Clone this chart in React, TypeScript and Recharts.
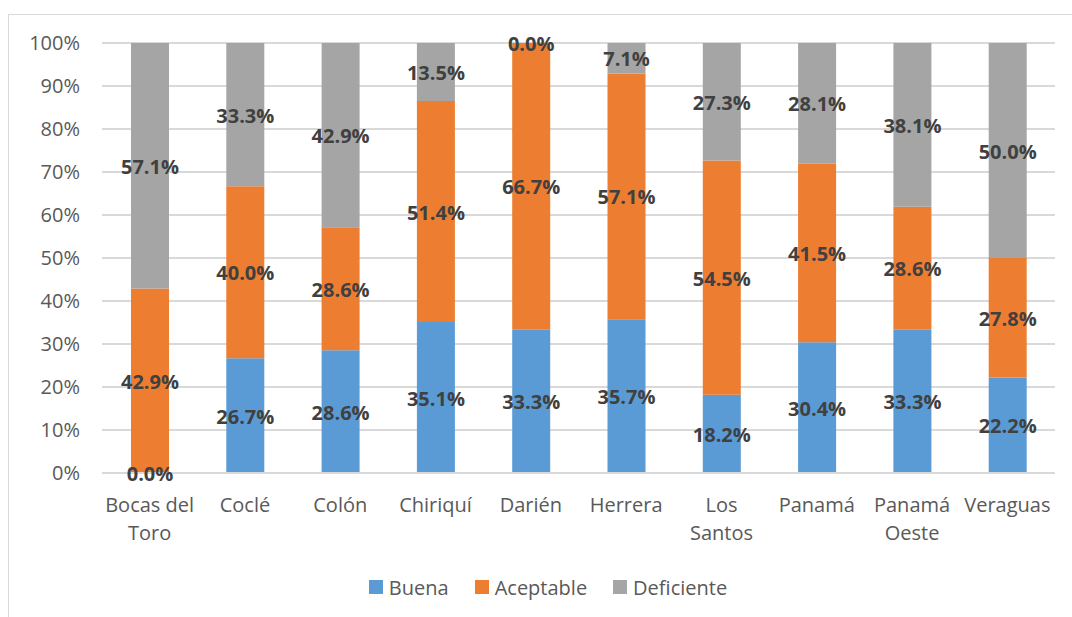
import React from 'react';
import { BarChart, Bar, XAxis, YAxis, CartesianGrid, Legend, LabelList } from 'recharts';

const categories = ['Bocas del Toro', 'Coclé', 'Colón', 'Chiriquí', 'Darién', 'Herrera', 'Los Santos', 'Panamá', 'Panamá Oeste', 'Veraguas'];
const buena = [0.0, 26.7, 28.6, 35.1, 33.3, 35.7, 18.2, 30.4, 33.3, 22.2];
const aceptable = [42.9, 40.0, 28.6, 51.4, 66.7, 57.1, 54.5, 41.5, 28.6, 27.8];
const deficiente = [57.1, 33.3, 42.9, 13.5, 0.0, 7.1, 27.3, 28.1, 38.1, 50.0];
const yTicks = [0, 0.1, 0.2, 0.3, 0.4, 0.5, 0.6, 0.7, 0.8, 0.9, 1];
const xLabelLines: Record<string, string[]> = {
  'Bocas del Toro': ['Bocas del', 'Toro'],
  'Los Santos': ['Los', 'Santos'],
  'Panamá Oeste': ['Panamá', 'Oeste'],
};

const data = categories.map((c, i) => ({
  name: c,
  Buena: buena[i],
  Aceptable: aceptable[i],
  Deficiente: deficiente[i],
}));

const FONT = '"Open Sans", sans-serif';

const XTick = (props: any) => {
  const { x, y, payload } = props;
  const lines = xLabelLines[payload.value] || [payload.value];
  return (
    <text x={x} y={y} textAnchor="middle" fill="#595959" fontSize={20} fontFamily={FONT}>
      {lines.map((l, i) => (
        <tspan key={i} x={x} dy={i === 0 ? 31 : 28}>{l}</tspan>
      ))}
    </text>
  );
};

const LegendContent = () => {
  const items = [
    { name: 'Buena', color: '#5B9BD5' },
    { name: 'Aceptable', color: '#ED7D31' },
    { name: 'Deficiente', color: '#A5A5A5' },
  ];
  return (
    <div style={{ display: 'flex', justifyContent: 'center', alignItems: 'center', height: 40, paddingLeft: 24, boxSizing: 'border-box', fontFamily: FONT, fontSize: 20, color: '#595959' }}>
      {items.map((it) => (
        <div key={it.name} style={{ display: 'flex', alignItems: 'center', margin: '0 13px' }}>
          <div style={{ width: 14, height: 14, background: it.color, marginRight: 6 }} />
          <span>{it.name}</span>
        </div>
      ))}
    </div>
  );
};

const labelText = (x: number, y: number, v: number, key?: string) => (
  <text key={key} x={x} y={y} dy={8} textAnchor="middle" fill="#404040" fontSize={20} fontWeight="bold" fontFamily={FONT}>
    {`${Number(v).toFixed(1)}%`}
  </text>
);

const SegLabel = (props: any) => {
  const { x, y, width, height, value, index, series } = props;
  if (value === undefined || value === null) return null;
  const cx = Number(x) + Number(width) / 2;
  const top = Number(y);
  const h = Number(height);
  const out: any[] = [labelText(cx, top + h / 2, value, 'm')];
  // zero-height neighbours get their label drawn at the shared edge
  if (series === 'Aceptable') {
    const d = data[index];
    if (d && d.Buena === 0) out.push(labelText(cx, top + h, d.Buena, 'b'));
    if (d && d.Deficiente === 0) out.push(labelText(cx, top, d.Deficiente, 't'));
  }
  return <g>{out}</g>;
};

export default function App() {
  return (
    <div style={{ position: 'absolute', left: 0, top: 0, width: 1072, height: 617, background: '#fff', overflow: 'hidden' }}>
      <div style={{ position: 'absolute', left: 8, top: 14, width: 1100, height: 700, border: '1.5px solid #D9D9D9', boxSizing: 'border-box' }} />
      <div style={{ position: 'absolute', left: 0, top: 0 }}>
        <BarChart
          width={1072}
          height={617}
          data={data}
          stackOffset="expand"
          barSize={38}
          margin={{ top: 43, right: 17, bottom: 0, left: 0 }}
        >
          <CartesianGrid vertical={false} stroke="#D9D9D9" strokeWidth={2} />
          <XAxis
            dataKey="name"
            tick={<XTick />}
            tickLine={false}
            axisLine={{ stroke: '#D9D9D9', strokeWidth: 2 }}
            height={104}
            interval={0}
          />
          <YAxis
            width={102}
            ticks={yTicks}
            domain={[0, 1]}
            tickFormatter={(v: number) => `${Math.round(v * 100)}%`}
            tickLine={false}
            axisLine={false}
            tickSize={0}
            tickMargin={22}
            tick={{ fill: '#595959', fontSize: 20, fontFamily: FONT }}
          />
          <Legend verticalAlign="bottom" content={<LegendContent />} wrapperStyle={{ top: 567, left: 0, width: 1072 }} />
          <Bar dataKey="Buena" stackId="a" fill="#5B9BD5" isAnimationActive={false}>
            <LabelList dataKey="Buena" content={<SegLabel series="Buena" />} />
          </Bar>
          <Bar dataKey="Aceptable" stackId="a" fill="#ED7D31" isAnimationActive={false}>
            <LabelList dataKey="Aceptable" content={<SegLabel series="Aceptable" />} />
          </Bar>
          <Bar dataKey="Deficiente" stackId="a" fill="#A5A5A5" isAnimationActive={false}>
            <LabelList dataKey="Deficiente" content={<SegLabel series="Deficiente" />} />
          </Bar>
        </BarChart>
      </div>
    </div>
  );
}
